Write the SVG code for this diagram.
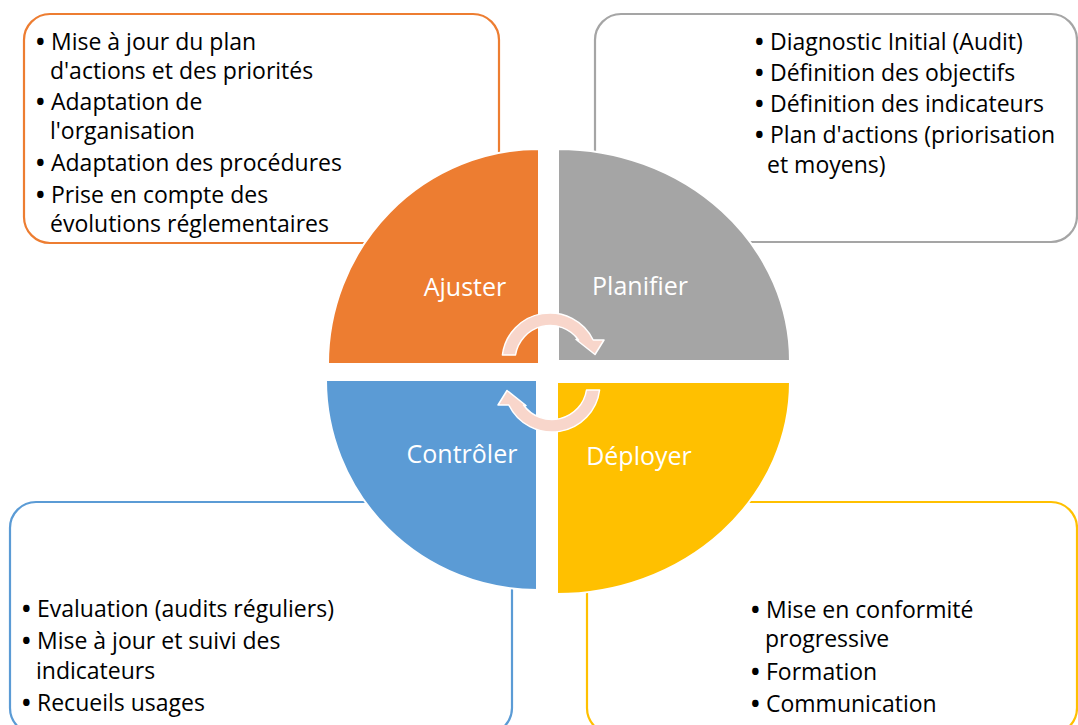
<svg xmlns="http://www.w3.org/2000/svg" width="1078" height="725" viewBox="0 0 1078 725">
  <style>
    .box { fill: #FFFFFF; stroke-width: 2.2; }
    .quad { stroke: #FFFFFF; stroke-width: 2; }
    .item { font-family: "Open Sans", "Noto Sans", sans-serif; font-size: 23px; fill: #000000; }
    .dot { font-weight: 700; }
    .label { font-family: "Open Sans", "Noto Sans", sans-serif; font-size: 25px; fill: #FFFFFF; text-anchor: middle; }
    .cycle { fill: #F8D6CB; stroke: #FFFFFF; stroke-width: 1.5; stroke-linejoin: round; }
  </style>
  <defs>
    <!-- curved arrow: arc centred at (550,361), outer r 48, inner r 35, head pointing down-right -->
    <path id="cycleArrow" d="M 502.4 355 A 48 48 0 0 1 593.2 340 L 604 340 L 595 354.5 L 576 339.5 L 578.5 340 A 35 35 0 0 0 515.5 355 Z"/>
  </defs>
  <rect width="1078" height="725" fill="#FFFFFF"/>

  <!-- text panels -->
  <g id="panel-ajuster">
    <rect class="box" x="24" y="14" width="475" height="229" rx="26" ry="26" stroke="#ED7D31"/>
    <text class="item">
      <tspan class="dot" x="36" y="49.5">•</tspan><tspan x="51" y="49.5">Mise à jour du plan</tspan>
      <tspan x="50" y="79">d'actions et des priorités</tspan>
      <tspan class="dot" x="36" y="110">•</tspan><tspan x="51" y="110">Adaptation de</tspan>
      <tspan x="50" y="139">l'organisation</tspan>
      <tspan class="dot" x="36" y="171">•</tspan><tspan x="51" y="171">Adaptation des procédures</tspan>
      <tspan class="dot" x="36" y="203">•</tspan><tspan x="51" y="203">Prise en compte des</tspan>
      <tspan x="50" y="232">évolutions réglementaires</tspan>
    </text>
  </g>

  <g id="panel-planifier">
    <rect class="box" x="595" y="14" width="482" height="228" rx="26" ry="26" stroke="#A5A5A5"/>
    <text class="item">
      <tspan class="dot" x="755" y="50">•</tspan><tspan x="770" y="50">Diagnostic Initial (Audit)</tspan>
      <tspan class="dot" x="755" y="81">•</tspan><tspan x="770" y="81">Définition des objectifs</tspan>
      <tspan class="dot" x="755" y="112">•</tspan><tspan x="770" y="112">Définition des indicateurs</tspan>
      <tspan class="dot" x="755" y="143">•</tspan><tspan x="770" y="143">Plan d'actions (priorisation</tspan>
      <tspan x="767" y="173">et moyens)</tspan>
    </text>
  </g>

  <g id="panel-controler">
    <rect class="box" x="10" y="502" width="502" height="232" rx="26" ry="26" stroke="#5B9BD5"/>
    <text class="item">
      <tspan class="dot" x="22" y="617">•</tspan><tspan x="37" y="617">Evaluation (audits réguliers)</tspan>
      <tspan class="dot" x="22" y="649">•</tspan><tspan x="37" y="649">Mise à jour et suivi des</tspan>
      <tspan x="36" y="679">indicateurs</tspan>
      <tspan class="dot" x="22" y="711">•</tspan><tspan x="37" y="711">Recueils usages</tspan>
    </text>
  </g>

  <g id="panel-deployer">
    <rect class="box" x="587" y="502" width="490" height="232" rx="26" ry="26" stroke="#FFC000"/>
    <text class="item">
      <tspan class="dot" x="751" y="618">•</tspan><tspan x="766" y="618">Mise en conformité</tspan>
      <tspan x="765" y="647">progressive</tspan>
      <tspan class="dot" x="751" y="680">•</tspan><tspan x="766" y="680">Formation</tspan>
      <tspan class="dot" x="751" y="712">•</tspan><tspan x="766" y="712">Communication</tspan>
    </text>
  </g>

  <!-- the four quarters of the cycle -->
  <g id="node-ajuster">
    <path class="quad" d="M 539 364 L 328 364 A 211 215 0 0 1 539 149 Z" fill="#ED7D31"/>
    <text class="label" x="465" y="296">Ajuster</text>
  </g>
  <g id="node-planifier">
    <path class="quad" d="M 558 361 L 558 149 A 232 212 0 0 1 790 361 Z" fill="#A5A5A5"/>
    <text class="label" x="640" y="295">Planifier</text>
  </g>
  <g id="node-controler">
    <path class="quad" d="M 537 380 L 537 590 A 211 210 0 0 1 326 380 Z" fill="#5B9BD5"/>
    <text class="label" x="462" y="463">Contrôler</text>
  </g>
  <g id="node-deployer">
    <path class="quad" d="M 557 382 L 790 382 A 233 212 0 0 1 557 594 Z" fill="#FFC000"/>
    <text class="label" x="639" y="465">Déployer</text>
  </g>

  <!-- circular arrows in the middle -->
  <g id="connectors">
    <use href="#cycleArrow" class="cycle"/>
    <use href="#cycleArrow" class="cycle" transform="rotate(180 551 372.5)"/>
  </g>
</svg>
